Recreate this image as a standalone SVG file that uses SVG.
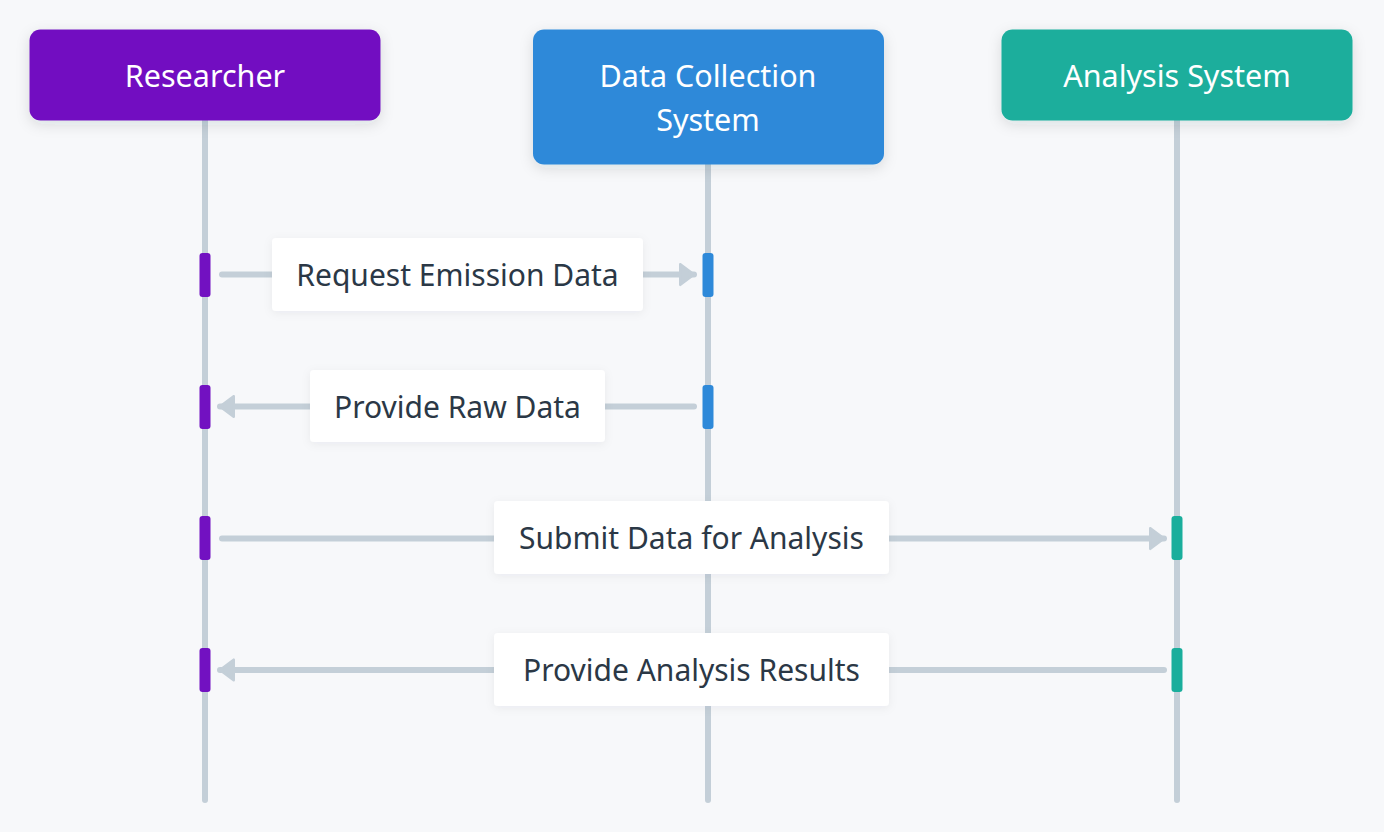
<svg xmlns="http://www.w3.org/2000/svg" width="1384" height="832" viewBox="0 0 1384 832">
<defs>
<filter id="sh" x="-20%" y="-30%" width="140%" height="170%">
<feDropShadow dx="0" dy="4" stdDeviation="7" flood-color="#1e2a38" flood-opacity="0.12"/>
</filter>
<filter id="shl" x="-20%" y="-30%" width="140%" height="170%">
<feDropShadow dx="0" dy="2" stdDeviation="5" flood-color="#1e2a38" flood-opacity="0.06"/>
</filter>
<marker id="ah" viewBox="0 0 10 14" refX="9" refY="7" markerWidth="2.9" markerHeight="4" orient="auto-start-reverse" markerUnits="strokeWidth">
<path d="M1,1 L9,7 L1,13 Z" fill="#C4CFD8" stroke="#C4CFD8" stroke-width="1.5" stroke-linejoin="round"/>
</marker>
</defs>
<style>
.node text{font-family:"Noto Sans","DejaVu Sans",sans-serif;font-size:30.5px;fill:#ffffff;text-anchor:middle}
.life{stroke:#C4CFD8;stroke-width:6;stroke-linecap:round}
.msg{stroke:#C4CFD8;stroke-width:6;stroke-linecap:round;fill:none}
.lbl rect{fill:#ffffff}
.lbl text{font-family:"Noto Sans","DejaVu Sans",sans-serif;font-size:30px;fill:#2B3846;text-anchor:middle}
.act{stroke:none}
</style>
<rect width="1384" height="832" fill="#F7F8FA"/>
<g id="lifelines">
<line class="life" x1="205" y1="120" x2="205" y2="800"/>
<line class="life" x1="708" y1="164" x2="708" y2="800"/>
<line class="life" x1="1177" y1="120" x2="1177" y2="800"/>
</g>
<g id="researcher" class="node">
<rect x="29.5" y="29.5" width="351" height="91" rx="11" fill="#7211C1" filter="url(#sh)"/>
<text x="205" y="87">Researcher</text>
</g>
<g id="data-collection" class="node">
<rect x="533" y="29.5" width="351" height="135" rx="11" fill="#2E89D9" filter="url(#sh)"/>
<text x="708" y="87">Data Collection</text>
<text x="708" y="131">System</text>
</g>
<g id="analysis" class="node">
<rect x="1001.5" y="29.5" width="351" height="91" rx="11" fill="#1AAE9C" filter="url(#sh)"/>
<text x="1177" y="87">Analysis System</text>
</g>
<g id="activations">
<rect class="act" x="199.5" y="253" width="11" height="44" rx="3" fill="#7211C1"/>
<rect class="act" x="702.5" y="253" width="11" height="44" rx="3" fill="#2E89D9"/>
<rect class="act" x="199.5" y="385" width="11" height="44" rx="3" fill="#7211C1"/>
<rect class="act" x="702.5" y="385" width="11" height="44" rx="3" fill="#2E89D9"/>
<rect class="act" x="199.5" y="516" width="11" height="44" rx="3" fill="#7211C1"/>
<rect class="act" x="1171.5" y="516" width="11" height="44" rx="3" fill="#1AAE9C"/>
<rect class="act" x="199.5" y="648" width="11" height="44" rx="3" fill="#7211C1"/>
<rect class="act" x="1171.5" y="648" width="11" height="44" rx="3" fill="#1AAE9C"/>
</g>
<g id="connectors">
<line class="msg" x1="222" y1="274.5" x2="694" y2="274.5" marker-end="url(#ah)"/>
<line class="msg" x1="694" y1="406.5" x2="220" y2="406.5" marker-end="url(#ah)"/>
<line class="msg" x1="222" y1="538.5" x2="1164" y2="538.5" marker-end="url(#ah)"/>
<line class="msg" x1="1164" y1="670" x2="220" y2="670" marker-end="url(#ah)"/>
</g>
<g id="labels">
<g id="lbl-request" class="lbl">
<rect x="272" y="238" width="371" height="73" rx="4" filter="url(#shl)"/>
<text x="457.5" y="286">Request Emission Data</text>
</g>
<g id="lbl-raw" class="lbl">
<rect x="310" y="370" width="295" height="72" rx="4" filter="url(#shl)"/>
<text x="457.5" y="418">Provide Raw Data</text>
</g>
<g id="lbl-submit" class="lbl">
<rect x="494" y="501" width="395" height="73" rx="4" filter="url(#shl)"/>
<text x="691.5" y="549">Submit Data for Analysis</text>
</g>
<g id="lbl-results" class="lbl">
<rect x="494" y="633" width="395" height="73" rx="4" filter="url(#shl)"/>
<text x="691.5" y="681">Provide Analysis Results</text>
</g>
</g>
</svg>
